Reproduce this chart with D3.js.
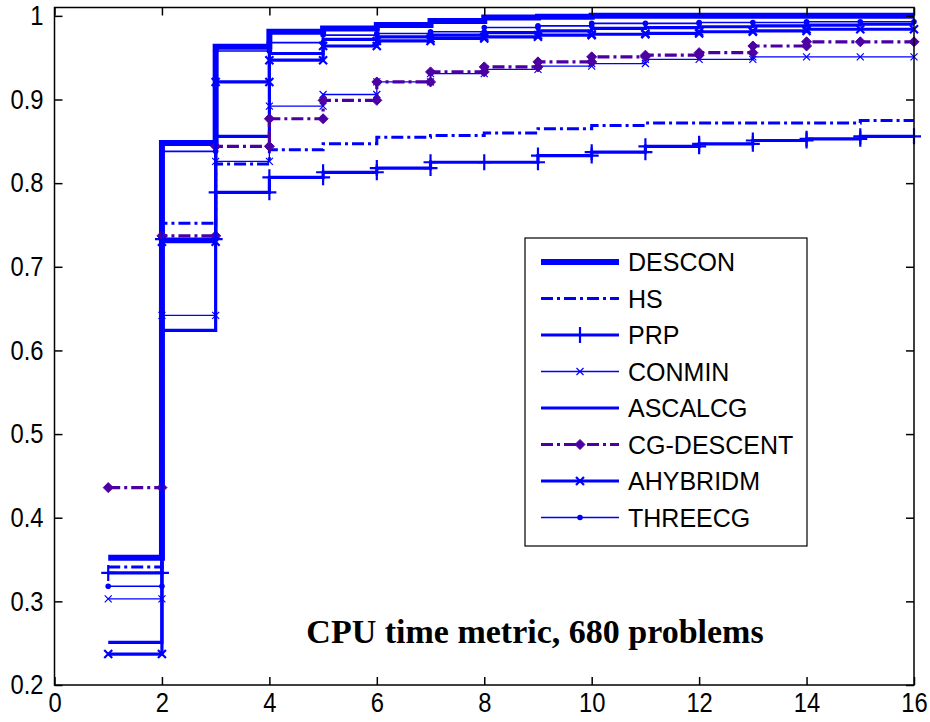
<!DOCTYPE html>
<html>
<head>
<meta charset="utf-8">
<script src="https://cdn.jsdelivr.net/npm/d3@7"></script>
<style>
  html, body { margin: 0; padding: 0; background: #fff; }
  svg { display: block; }
</style>
</head>
<body>
<svg id="chart" width="930" height="722"></svg>
<script>
// ---------- data ----------
const tau = [1,2,3,4,5,6,7,8,9,10,11,12,13,14,15,16];
const seriesNames = ["DESCON","HS","PRP","CONMIN","ASCALCG","CG-DESCENT","AHYBRIDM","THREECG"];
const descon    = [0.352,0.848,0.963,0.981,0.985,0.989,0.994,0.998,0.999,1.000,1.000,1.000,1.000,1.000,1.000,1.000];
const hs        = [0.341,0.752,0.823,0.840,0.847,0.855,0.857,0.860,0.865,0.869,0.872,0.872,0.872,0.872,0.875,0.875];
const prp       = [0.334,0.733,0.789,0.807,0.813,0.818,0.825,0.825,0.833,0.837,0.844,0.847,0.851,0.853,0.856,0.856];
const conmin    = [0.303,0.642,0.826,0.892,0.906,0.921,0.931,0.936,0.940,0.943,0.948,0.948,0.951,0.951,0.951,0.951];
const ascalcg   = [0.251,0.624,0.856,0.955,0.972,0.975,0.977,0.980,0.982,0.985,0.986,0.987,0.988,0.989,0.990,0.990];
const cgdescent = [0.436,0.737,0.844,0.877,0.899,0.921,0.933,0.939,0.945,0.951,0.953,0.956,0.964,0.969,0.969,0.969];
const ahybridm  = [0.237,0.730,0.921,0.947,0.964,0.970,0.973,0.975,0.977,0.978,0.979,0.981,0.982,0.984,0.984,0.984];
const threecg   = [0.318,0.838,0.958,0.968,0.977,0.979,0.981,0.986,0.988,0.991,0.991,0.992,0.992,0.993,0.993,0.993];
const xTicks = [0,2,4,6,8,10,12,14,16];
const yTicks = [0.2,0.3,0.4,0.5,0.6,0.7,0.8,0.9,1.0];
const titleText = "CPU time metric, 680 problems";

// ---------- styles ----------
const BLUE = "#0000ff", PURPLE = "#4c00a4";
const styles = [
  {name:"DESCON",     values:descon,    color:BLUE,   width:6,   dash:null,        marker:null},
  {name:"HS",         values:hs,        color:BLUE,   width:3,   dash:"12,4,3,4",  marker:null},
  {name:"PRP",        values:prp,       color:BLUE,   width:3.2, dash:null,        marker:"plus"},
  {name:"CONMIN",     values:conmin,    color:BLUE,   width:1.3, dash:null,        marker:"xthin"},
  {name:"ASCALCG",    values:ascalcg,   color:BLUE,   width:3.2, dash:null,        marker:null},
  {name:"CG-DESCENT", values:cgdescent, color:PURPLE, width:3.2, dash:"12,4,3,4",  marker:"diamond"},
  {name:"AHYBRIDM",   values:ahybridm,  color:BLUE,   width:3.2, dash:null,        marker:"xthick"},
  {name:"THREECG",    values:threecg,   color:BLUE,   width:1.6, dash:null,        marker:"dot"}
];

const svg = d3.select("#chart");
const x = d3.scaleLinear().domain([0,16]).range([54.5,914]);
const y = d3.scaleLinear().domain([0.2,1.01]).range([685,7.5]);

// stair vertices
function stairs(vals){
  const pts = [];
  for (let i=0;i<vals.length;i++){
    if (i>0) pts.push([tau[i], vals[i-1]]);
    pts.push([tau[i], vals[i]]);
    if (i<vals.length-1) pts.push([tau[i+1], vals[i]]);
  }
  return pts.filter((p,i)=> i===0 || p[0]!==pts[i-1][0] || p[1]!==pts[i-1][1]);
}

function drawMarker(g, type, cx, cy, color){
  if (!type) return;
  if (type==="plus"){
    g.append("path").attr("d",`M${cx-7},${cy}H${cx+7}M${cx},${cy-8}V${cy+8}`)
      .attr("stroke",color).attr("stroke-width",2.2).attr("fill","none");
  } else if (type==="xthin"){
    g.append("path").attr("d",`M${cx-3.5},${cy-3.5}L${cx+3.5},${cy+3.5}M${cx-3.5},${cy+3.5}L${cx+3.5},${cy-3.5}`)
      .attr("stroke",color).attr("stroke-width",1.2).attr("fill","none");
  } else if (type==="xthick"){
    g.append("path").attr("d",`M${cx-4},${cy-4}L${cx+4},${cy+4}M${cx-4},${cy+4}L${cx+4},${cy-4}`)
      .attr("stroke",color).attr("stroke-width",2.2).attr("fill","none");
  } else if (type==="diamond"){
    g.append("path").attr("d",`M${cx},${cy-5}L${cx+5},${cy}L${cx},${cy+5}L${cx-5},${cy}Z`)
      .attr("fill",color).attr("stroke",color).attr("stroke-width",1);
  } else if (type==="dot"){
    g.append("circle").attr("cx",cx).attr("cy",cy).attr("r",2.8).attr("fill",color);
  }
}

const line = d3.line().x(d=>x(d[0])).y(d=>y(d[1]));
const plot = svg.append("g");
svg.append("clipPath").attr("id","clip").append("rect")
  .attr("x",x(0)-10).attr("y",y(1.01)).attr("width",x(16)-x(0)+20).attr("height",y(0.2)-y(1.01));

styles.forEach(s=>{
  const pts = stairs(s.values);
  const g = plot.append("g").attr("clip-path","url(#clip)");
  g.append("path").attr("d",line(pts)).attr("fill","none")
    .attr("stroke",s.color).attr("stroke-width",s.width)
    .attr("stroke-dasharray",s.dash).attr("stroke-linejoin","miter");
  if (s.marker) pts.forEach(p=>drawMarker(g, s.marker, x(p[0]), y(p[1]), s.color));
});

// axes box
const axG = svg.append("g");
axG.append("rect").attr("x",x(0)).attr("y",y(1.01)).attr("width",x(16)-x(0)).attr("height",y(0.2)-y(1.01))
  .attr("fill","none").attr("stroke","#000").attr("stroke-width",1.5);

const xAxis = d3.axisBottom(x).tickValues(xTicks).tickSize(-8).tickPadding(8).tickFormat(d3.format("d"));
const yAxis = d3.axisLeft(y).tickValues(yTicks).tickSize(-8).tickPadding(10).tickFormat(d=> d===1 ? "1" : d3.format(".1f")(d));
const xTop = d3.axisTop(x).tickValues(xTicks).tickSize(-8).tickFormat("");
const yRight = d3.axisRight(y).tickValues(yTicks).tickSize(-8).tickFormat("");

function styleAxis(g){
  g.select(".domain").remove();
  g.selectAll(".tick line").attr("stroke","#000").attr("stroke-width",1.5);
  g.selectAll(".tick text").attr("fill","#000").style("font-family","'Liberation Sans', Arial, sans-serif").style("font-size","27px");
}
svg.append("g").attr("transform",`translate(0,${y(0.2)})`).call(xAxis).call(styleAxis)
  .selectAll(".tick text").attr("transform","scale(0.88,1)").attr("dy","0.71em");
svg.append("g").attr("transform",`translate(${x(0)},0)`).call(yAxis).call(styleAxis)
  .selectAll(".tick text").attr("transform","scale(0.88,1)").attr("x",-11/0.88);
svg.append("g").attr("transform",`translate(0,${y(1.01)})`).call(xTop).call(styleAxis);
svg.append("g").attr("transform",`translate(${x(16)},0)`).call(yRight).call(styleAxis);

// title inside
svg.append("text").attr("x",535).attr("y",643).attr("text-anchor","middle")
  .style("font-family","'Liberation Serif', 'Times New Roman', serif").style("font-weight","bold").style("font-size","34px")
  .attr("fill","#000").text(titleText);

// legend
const leg = svg.append("g");
leg.append("rect").attr("x",525).attr("y",238).attr("width",282).attr("height",308)
  .attr("fill","#fff").attr("stroke","#000").attr("stroke-width",1.2);
styles.forEach((s,i)=>{
  const ly = 262 + i*36.5;
  leg.append("line").attr("x1",541).attr("x2",619).attr("y1",ly).attr("y2",ly)
    .attr("stroke",s.color).attr("stroke-width",s.width).attr("stroke-dasharray",s.dash);
  drawMarker(leg, s.marker, 580, ly, s.color);
  leg.append("text").attr("x",628).attr("y",ly+9)
    .style("font-family","'Liberation Sans', Arial, sans-serif").style("font-size","25px")
    .attr("fill","#000").text(s.name);
});
</script>
</body>
</html>
